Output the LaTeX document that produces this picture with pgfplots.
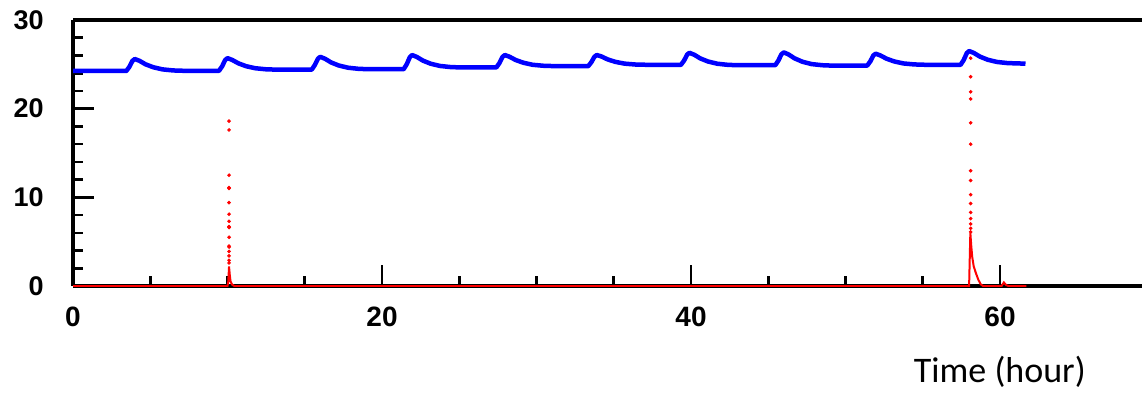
\documentclass[border=0pt]{standalone}
\usepackage{pgfplots}
\pgfplotsset{compat=1.18}
\usepackage{fontspec}
\setmainfont{Liberation Sans}
\newfontfamily\carlito{Carlito}
\begin{document}
\begin{tikzpicture}
\path[use as bounding box] (-36.5pt,-53.5pt) rectangle (534.5pt,143pt);
\begin{axis}[
  at={(0,0)}, anchor=south west,
  scale only axis, width=534.5pt, height=133pt,
  xmin=0, xmax=69.19, ymin=0, ymax=30,
  axis x line*=box, axis y line*=left,
  axis line style={-, line width=1.6pt, black},
  xtick={0,20,40,60}, ytick={0,10,20,30},
  minor x tick num=3, minor y tick num=4,
  xtick pos=bottom, ytick pos=left,
  tick align=inside,
  major tick length=10.5pt, minor tick length=5pt,
  every tick/.style={black, line width=1.3pt},
  every minor tick/.style={black, line width=1.3pt},
  /pgf/number format/assume math mode=true,
  xticklabel style={font=\fontsize{14}{16}\selectfont\bfseries, anchor=north, inner sep=0pt, yshift=-10.5pt},
  yticklabel style={font=\fontsize{13.5}{16}\selectfont\bfseries, anchor=east, inner sep=0pt, xshift=-14.5pt},
  xlabel={Time (hour)},
  xlabel style={at={(axis description cs:0.867,0)}, anchor=base, yshift=-48pt, inner sep=0pt, font=\carlito\fontsize{18}{20}\selectfont},
]
\addplot[blue, line width=2.25pt, line join=round] coordinates {
(0,24.25)
(3.45,24.25)(3.65,24.72)(3.85,25.4)(4.0,25.6)(4.3,25.4)(4.7,25.0)(5.2,24.67)(5.8,24.43)(6.5,24.31)(7.2,24.27)
(9.45,24.27)(9.65,24.77)(9.85,25.49)(10.0,25.7)(10.3,25.5)(10.7,25.12)(11.2,24.79)(11.8,24.56)(12.5,24.44)(13.2,24.4)
(15.45,24.4)(15.65,24.92)(15.85,25.63)(16.0,25.85)(16.3,25.64)(16.7,25.22)(17.2,24.87)(17.8,24.62)(18.5,24.49)(19.2,24.45)
(21.4,24.45)(21.6,25.01)(21.8,25.81)(21.95,26.05)(22.25,25.84)(22.65,25.42)(23.15,25.07)(23.75,24.82)(24.45,24.69)(25.15,24.65)
(27.4,24.65)(27.6,25.14)(27.8,25.84)(27.95,26.05)(28.25,25.86)(28.65,25.49)(29.15,25.18)(29.75,24.95)(30.45,24.84)(31.15,24.8)
(33.35,24.8)(33.55,25.24)(33.75,25.86)(33.9,26.05)(34.2,25.89)(34.6,25.56)(35.1,25.28)(35.7,25.08)(36.4,24.98)(37.1,24.95)
(39.35,24.95)(39.55,25.42)(39.75,26.1)(39.9,26.3)(40.2,26.09)(40.6,25.67)(41.1,25.32)(41.7,25.07)(42.4,24.94)(43.1,24.9)
(45.45,24.9)(45.65,25.41)(45.85,26.13)(46.0,26.35)(46.3,26.13)(46.7,25.68)(47.2,25.3)(47.8,25.03)(48.5,24.9)(49.2,24.85)
(51.4,24.85)(51.6,25.32)(51.8,26.0)(51.95,26.2)(52.25,26.01)(52.65,25.64)(53.15,25.33)(53.75,25.1)(54.45,24.99)(55.15,24.95)
(57.45,24.95)(57.65,25.49)(57.85,26.27)(58.0,26.5)(58.3,26.29)(58.7,25.87)(59.2,25.52)(59.8,25.27)(60.5,25.14)(61.2,25.1)(61.65,25.08)
};
\addplot[red, line width=1pt] coordinates {
(0,0)(10.0,0)(10.05,0.5)(10.1,2.2)(10.15,1.2)(10.2,0.5)(10.3,0.15)(10.45,0)
(58.0,0)(58.08,6.0)(58.14,4.5)(58.2,3.3)(58.3,2.2)(58.45,1.4)(58.6,0.7)(58.75,0.2)(58.9,0)
(60.1,0)(60.25,0.4)(60.4,0.1)(60.55,0)(61.7,0)
};
\addplot[only marks, red, mark=*, mark size=0.7pt] coordinates {
(10.1,18.6)(10.1,17.6)(10.1,12.5)(10.1,11.1)(10.1,11.0)(10.1,9.4)(10.1,8.1)(10.1,7.3)(10.1,6.7)(10.1,6.6)(10.1,5.5)(10.1,4.5)(10.1,4.4)(10.1,3.9)(10.1,3.4)(10.1,2.9)(10.1,2.6)
(58.1,25.7)(58.1,23.6)(58.1,21.9)(58.1,21.1)(58.1,18.4)(58.1,16.0)(58.1,13.0)(58.1,11.9)(58.1,10.3)(58.1,9.3)(58.1,8.3)(58.1,7.6)(58.1,7.0)(58.1,6.5)(58.1,6.1)
};
\end{axis}
\end{tikzpicture}
\end{document}
